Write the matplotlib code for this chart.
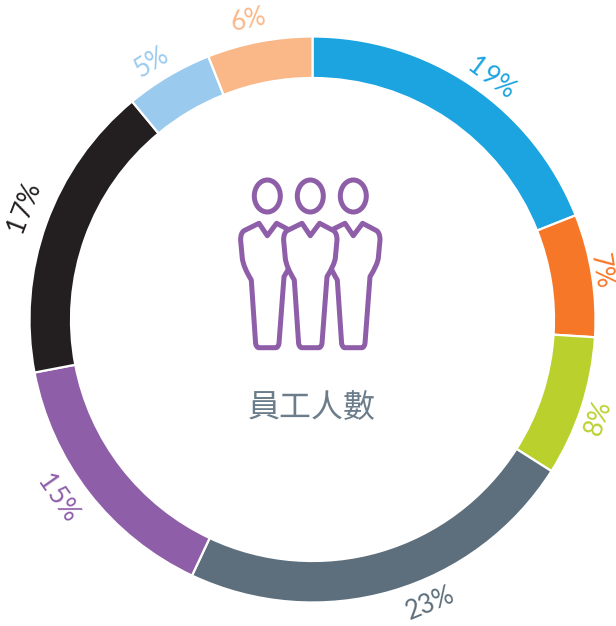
import matplotlib
matplotlib.use('Agg')
import matplotlib.pyplot as plt
import numpy as np
from matplotlib.patches import Ellipse, PathPatch
from matplotlib.path import Path

values = [19, 7, 8, 23, 15, 17, 5, 6]
colors = ['#1ca4e0', '#f77728', '#bad12d', '#5d6f7c', '#8e5ea8', '#231f20', '#9acbee', '#fab889']
center_label = '員工人數'

# where each percent label sits: degrees clockwise from the top, distance from centre
label_angle = [36.5, 80.5, 109, 157.5, 235, 291, 328, 348]
label_dist = [301, 292, 302, 307, 310, 308, 303, 306]

W, H = 616, 626
PURPLE = '#8e5ea8'

fig = plt.figure(figsize=(W / 100, H / 100), dpi=100)
ax = fig.add_axes([0, 0, 1, 1])

cx, cy = 312.5, H - 319.5
radius = 283
wedges, _ = ax.pie(
    values,
    colors=colors,
    startangle=90,
    counterclock=False,
    center=(cx, cy),
    radius=radius,
    wedgeprops=dict(width=41.5, edgecolor='white', linewidth=1.6),
)
ax.set_xlim(0, W)
ax.set_ylim(0, H)
ax.set_aspect('equal')
ax.axis('off')

# percent labels follow the ring, kept upright
for val, col, ang, dist in zip(values, colors, label_angle, label_dist):
    x = cx + dist * np.sin(np.radians(ang))
    y = cy + dist * np.cos(np.radians(ang))
    rot = -ang
    if 90 < ang < 270:
        rot = 180 - ang
    ax.text(x, y, f'{val}%'.replace('1', '1\u200a'), color=col, fontsize=18.5, family='Lato',
            rotation=rot, rotation_mode='anchor', ha='center', va='center')

# icon outline of one person, pixels relative to head centre x
person = [
    (Path.MOVETO, (-8.3, 223.3)), (Path.LINETO, (0, 235.7)), (Path.LINETO, (9.3, 223.3)),
    (Path.LINETO, (23.3, 230.7)), (Path.CURVE3, (26.7, 233)), (Path.CURVE3, (26.7, 240)),
    (Path.LINETO, (25, 258.3)), (Path.CURVE3, (24, 265)), (Path.CURVE3, (16.7, 276.7)),
    (Path.LINETO, (11.7, 343.3)), (Path.CURVE3, (11, 347.7)), (Path.CURVE3, (8.3, 347.7)),
    (Path.LINETO, (-8.3, 347.7)), (Path.CURVE3, (-11, 347.7)), (Path.CURVE3, (-11.7, 343.3)),
    (Path.LINETO, (-16, 280)), (Path.CURVE3, (-24, 267)), (Path.CURVE3, (-25, 258.3)),
    (Path.LINETO, (-26.7, 240)), (Path.CURVE3, (-26.7, 233)), (Path.CURVE3, (-23.3, 230.7)),
    (Path.CLOSEPOLY, (-8.3, 223.3)),
]
codes = [c for c, _ in person]
outline = np.array([p for _, p in person])

for hx, z in [(267.3, 3), (353.3, 3), (310.3, 4)]:
    verts = np.column_stack([outline[:, 0] + hx, H - outline[:, 1]])
    ax.add_patch(PathPatch(Path(verts, codes), facecolor='white', edgecolor=PURPLE,
                           linewidth=3.6, joinstyle='round', zorder=z))
    ax.add_patch(Ellipse((hx, H - 196), 26, 32, facecolor='none', edgecolor=PURPLE,
                         linewidth=3.6, zorder=z))

ax.text(312, H - 408, center_label, color='#6b7d8a', fontsize=23,
        family=['Noto Sans CJK TC', 'DejaVu Sans'],
        ha='center', va='center')

fig.savefig('out.png', dpi=100)
plt.close(fig)
